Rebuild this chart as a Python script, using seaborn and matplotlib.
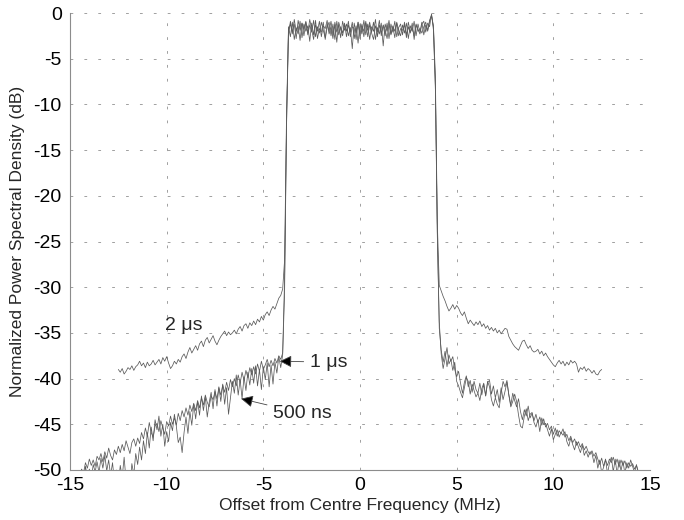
import numpy as np
import pandas as pd
import matplotlib
matplotlib.use("Agg")
import matplotlib.pyplot as plt
import seaborn as sns

# ---------------- data (0.1 MHz bins) ----------------
freq_wide = np.round(np.arange(-145, 146) / 10.0, 1)    # -14.5 .. 14.5 MHz
freq_2us = np.round(np.arange(-125, 126) / 10.0, 1)     # -12.5 .. 12.5 MHz

# 1 us pulse
psd_1us_left = [-50.6, -49.9, -50.3, -49.2, -49.8, -48.8, -49.5, -48.9, -49.6, -48.5,
                -48.9, -48.2, -49.1, -48.0, -48.7, -47.6, -48.4, -48.9, -47.8, -48.3,
                -47.4, -48.1, -47.2, -47.9, -46.8, -47.5, -48.2, -47.0, -46.6, -47.4,
                -46.5, -47.1, -45.9, -46.6, -45.4, -46.3, -44.8, -45.9, -46.4, -45.2,
                -44.9, -45.8, -44.6, -45.4, -46.1, -44.7, -45.2, -44.1, -45.0, -44.3,
                -45.1, -43.8, -44.6, -43.5, -44.2, -43.2, -44.0, -42.9, -43.6, -42.7,
                -43.5, -42.4, -43.2, -42.1, -42.9, -41.8, -42.6, -43.1, -41.9, -42.3,
                -41.4, -42.2, -41.0, -41.8, -40.7, -41.5, -40.4, -41.3, -40.1, -40.9,
                -40.0, -40.8, -39.6, -40.5, -39.3, -40.2, -39.1, -39.9, -38.8, -39.6,
                -38.7, -39.5, -38.4, -39.2, -38.1, -39.0, -38.5, -37.9, -38.7, -38.0,
                -38.6, -37.8, -38.3, -37.5, -37.9, -37.2,
                -29.0, -12.0]
psd_1us_band = [-2.4, -0.9, -2.1, -1.2, -2.8, -0.8, -1.9, -1.1, -2.5, -1.0,
                -2.2, -0.7, -1.8, -2.9, -1.3, -2.0, -0.9, -2.6, -1.4, -1.7,
                -0.8, -2.3, -1.5, -2.8, -1.0, -2.1, -1.3, -2.7, -0.9, -1.9,
                -1.2, -2.5, -1.6, -3.9, -1.1, -2.2, -1.0, -2.8, -1.4, -2.0,
                -0.9, -2.6, -1.3, -2.1, -1.0, -2.9, -1.6, -2.3, -1.1, -3.6,
                -1.2, -2.0, -0.8, -2.4, -1.5, -2.7, -1.0, -1.9, -2.5, -1.3,
                -2.2, -1.1, -2.8, -1.4, -2.0, -0.9, -2.5, -1.2, -2.1, -1.0,
                -2.4, -1.3, -1.9, -0.8, -0.2, -1.6]
psd_1us_right = [-8.0, -24.0,
                 -34.5, -36.9, -38.2, -37.0, -38.7, -37.4, -38.1, -37.6, -39.0, -39.8,
                 -39.2, -40.5, -41.6, -40.4, -39.7, -40.9, -40.2, -41.5, -40.3, -41.2,
                 -41.6, -40.5, -41.8, -40.6, -41.9, -40.4, -40.2, -41.7, -40.8, -42.1,
                 -41.2, -42.6, -41.0, -42.3, -41.4, -40.4, -41.8, -42.9, -41.6, -42.4,
                 -43.1, -42.2, -43.6, -44.5, -43.4, -44.1, -43.0, -44.3, -43.8, -44.6,
                 -43.9, -44.8, -44.2, -45.1, -44.4, -45.3, -44.9, -45.6, -45.2, -46.1,
                 -45.4, -46.3, -45.7, -46.0, -45.5, -46.4, -46.1, -46.8, -46.3, -47.0,
                 -46.6, -47.3, -46.9, -47.5, -47.1, -47.8, -47.4, -48.0, -48.3, -47.9,
                 -48.5, -48.1, -48.8, -49.4, -48.7, -49.6, -48.9, -49.5, -48.8, -49.2,
                 -48.6, -49.4, -48.8, -49.7, -48.9, -49.5, -49.0, -49.8, -49.2, -49.6,
                 -49.3, -49.9, -49.5, -50.2, -50.6]

# 500 ns pulse
psd_500ns_left = [-51.5, -50.4, -51.2, -49.6, -50.8, -49.9, -51.0, -49.4, -50.2, -49.1,
                  -50.3, -48.7, -49.8, -48.4, -50.1, -48.9, -50.6, -49.2, -51.3, -50.0,
                  -51.6, -49.5, -50.8, -48.6, -51.2, -50.1, -51.8, -49.3, -50.5, -48.2,
                  -49.4, -47.5, -48.9, -46.8, -48.2, -45.9, -47.6, -45.3, -46.8, -44.5,
                  -45.6, -44.1, -46.3, -45.0, -47.4, -45.8, -46.9, -44.8, -45.7, -43.9,
                  -45.2, -47.0, -46.4, -48.1, -45.9, -44.2, -46.0, -43.6, -45.1, -42.8,
                  -44.4, -42.5, -44.0, -41.9, -43.5, -42.0, -44.2, -42.6, -41.5, -43.3,
                  -41.2, -43.0, -40.9, -42.5, -40.6, -42.8, -41.0, -43.9, -42.1, -40.3,
                  -41.6, -39.6, -41.8, -40.1, -42.2, -39.8, -41.3, -39.3, -40.7, -38.9,
                  -40.5, -38.6, -40.8, -39.0, -41.2, -38.7, -40.1, -38.3, -40.9, -38.5,
                  -40.6, -38.2, -39.4, -37.6, -38.8, -37.4,
                  -30.5, -12.5]
psd_500ns_band = [-1.5, -2.6, -1.0, -2.9, -1.6, -2.3, -0.9, -2.7, -1.2, -2.0,
                  -1.4, -3.1, -1.1, -2.4, -0.8, -2.8, -1.7, -2.1, -1.0, -2.9,
                  -1.6, -1.0, -2.5, -1.2, -2.9, -0.9, -2.4, -1.5, -2.2, -1.1,
                  -2.6, -1.3, -2.1, -1.0, -2.8, -1.4, -3.3, -1.2, -2.3, -0.8,
                  -2.4, -1.2, -2.9, -1.5, -2.0, -0.7, -2.6, -1.3, -2.2, -1.4,
                  -2.5, -1.1, -2.8, -1.2, -2.1, -0.9, -2.6, -1.6, -1.2, -2.4,
                  -1.0, -2.7, -1.5, -2.2, -1.1, -2.9, -1.3, -1.8, -2.3, -1.2,
                  -0.9, -2.1, -1.1, -1.5, -0.1, -1.9]
psd_500ns_right = [-8.5, -24.5,
                   -33.8, -37.3, -38.9, -37.8, -36.6, -38.4, -37.9, -39.1, -38.2, -40.3,
                   -40.8, -41.5, -42.1, -41.0, -39.9, -40.3, -41.7, -40.6, -41.3, -42.0,
                   -41.6, -42.4, -41.1, -40.5, -41.9, -40.3, -40.9, -42.3, -43.0, -42.1,
                   -42.8, -43.2, -41.6, -40.3, -40.9, -40.2, -41.8, -43.1, -42.5, -41.7,
                   -42.5, -44.0, -45.2, -45.4, -44.1, -43.3, -44.6, -43.9, -43.7, -44.8,
                   -45.3, -44.5, -45.8, -44.3, -45.0, -44.9, -45.6, -46.3, -45.5, -46.7,
                   -46.1, -45.6, -46.4, -45.9, -46.2, -45.8, -46.9, -47.4, -46.5, -47.2,
                   -47.8, -46.9, -47.5, -48.1, -47.3, -48.4, -47.9, -48.6, -48.0, -48.2,
                   -49.2, -48.4, -49.8, -48.9, -50.3, -49.7, -48.8, -50.4, -49.3, -48.6,
                   -50.2, -48.8, -50.5, -48.9, -50.1, -49.0, -50.4, -49.2, -49.8, -48.9,
                   -49.6, -50.3, -49.4, -50.5, -51.0]

# 2 us pulse
psd_2us_left = [-39.0, -39.3, -38.9, -39.5, -39.2, -38.8, -39.0, -38.6, -39.1, -38.7,
                -38.5, -38.1, -38.6, -38.3, -38.8, -38.2, -38.6, -38.4, -38.0, -38.5,
                -38.2, -37.9, -38.4, -37.7, -38.1, -37.6, -38.3, -38.9, -38.6, -38.1,
                -38.4, -37.9, -38.2, -37.6, -37.3, -37.8, -37.1, -36.6, -37.2, -36.8,
                -36.4, -36.9, -36.2, -35.9, -36.5, -35.8, -35.5, -36.1, -35.7, -35.3,
                -35.9, -36.3, -35.8, -35.4, -35.1, -34.8, -35.3, -34.9, -35.2, -35.0,
                -34.7, -35.1, -34.6, -34.3, -34.8, -34.2, -34.0, -34.5, -33.9, -34.2,
                -33.7, -34.1, -33.5, -33.8, -33.2, -33.6, -33.0, -32.7, -33.1, -32.5,
                -32.1, -32.4, -31.8, -31.2, -30.9, -30.2,
                -27.0, -11.0]
psd_2us_band = [-1.9, -1.2, -2.3, -0.7, -2.0, -1.4, -3.0, -1.1, -1.8, -0.9,
                -2.4, -1.3, -2.1, -0.8, -2.6, -1.5, -2.2, -1.0, -1.9, -2.7,
                -1.2, -2.0, -0.9, -2.4, -1.3, -3.2, -1.0, -1.8, -2.5, -1.3,
                -2.0, -0.9, -2.6, -1.5, -1.7, -2.9, -1.0, -2.3, -1.2, -2.6,
                -1.1, -1.9, -1.0, -2.2, -2.9, -1.4, -2.1, -0.8, -2.5, -1.3,
                -1.8, -2.8, -1.2, -2.3, -1.4, -2.0, -1.1, -2.5, -1.7, -1.9,
                -1.3, -2.4, -1.0, -2.1, -1.6, -2.5, -1.2, -2.0, -1.7, -2.2,
                -1.5, -1.0, -2.0, -0.9, -0.3, -1.4]
psd_2us_right = [-7.0, -23.0,
                 -29.8, -30.4, -31.0, -31.5, -32.1, -32.6, -32.3, -31.9, -32.4, -32.0,
                 -32.3, -32.8, -33.1, -32.7, -33.4, -34.0, -33.6, -33.9, -34.2, -33.8,
                 -34.1, -33.7, -34.3, -34.0, -34.5, -34.2, -34.7, -34.4, -34.8, -34.5,
                 -35.0, -34.7, -35.1, -34.8, -34.5, -34.6, -35.4, -35.8, -36.2, -36.5,
                 -36.7, -36.9, -36.4, -35.9, -35.8, -36.3, -36.7, -36.4, -36.9, -37.1,
                 -37.0, -36.8, -37.3, -37.0, -37.5, -37.2, -37.6, -37.9, -38.2, -38.5,
                 -38.7, -38.3, -38.0, -38.4, -38.1, -38.6, -38.2, -38.5, -38.0, -38.3,
                 -38.1, -38.4, -39.3, -38.8, -39.0, -38.7, -39.2, -38.9, -39.1, -39.4,
                 -39.1, -39.5, -39.6, -39.2, -39.0]

x_ticks = [-15, -10, -5, 0, 5, 10, 15]
y_ticks = [0, -5, -10, -15, -20, -25, -30, -35, -40, -45, -50]

labels = {"2us": "2 \u03bcs", "1us": "1 \u03bcs", "500ns": "500 ns"}

# ---------------- assemble ----------------
series = {
    "500ns": (freq_wide, psd_500ns_left + psd_500ns_band + psd_500ns_right),
    "1us": (freq_wide, psd_1us_left + psd_1us_band + psd_1us_right),
    "2us": (freq_2us, psd_2us_left + psd_2us_band + psd_2us_right),
}
frames = []
for name, (f, p) in series.items():
    assert len(f) == len(p), (name, len(f), len(p))
    frames.append(pd.DataFrame({"freq": f, "psd": p, "series": name}))
df = pd.concat(frames, ignore_index=True)

# ---------------- plot ----------------
sns.set_style("white")
plt.rcParams["font.family"] = ["Liberation Sans", "DejaVu Sans"]
plt.rcParams["lines.scale_dashes"] = False

fig = plt.figure(figsize=(6.84, 5.20), dpi=100)
ax = fig.add_axes([70 / 684, 1 - 470 / 520, 580 / 684, 457 / 520])

line_col = "#5a5a5a"
sns.lineplot(data=df, x="freq", y="psd", hue="series",
             palette={"500ns": line_col, "1us": line_col, "2us": line_col},
             estimator=None, sort=False, legend=False, linewidth=0.55, ax=ax)

ax.set_xlim(-15, 15)
ax.set_ylim(-50, 0)
ax.set_xticks(x_ticks)
ax.set_yticks(y_ticks)
ax.set_xticklabels([str(v) for v in x_ticks])
ax.set_yticklabels([str(v) for v in y_ticks])
ax.grid(True, color="#a0a0a0", linewidth=0.7, linestyle=(0, (2.0, 8.0)))
ax.set_axisbelow(True)

for s in ["top", "right"]:
    ax.spines[s].set_visible(False)
for s in ["left", "bottom"]:
    ax.spines[s].set_color("#8c8c8c")
    ax.spines[s].set_linewidth(0.8)

ax.tick_params(axis="both", which="both", length=0, labelsize=14, colors="black")
ax.tick_params(axis="y", pad=6)
ax.tick_params(axis="x", pad=5)

ax.set_xlabel("Offset from Centre Frequency (MHz)", fontsize=12.5, labelpad=3)
ax.set_ylabel("Normalized Power Spectral Density (dB)", fontsize=12.5, labelpad=6)

# annotations
ax.text(-10.1, -34.2, labels["2us"], fontsize=14, ha="left", va="center")
arrow = dict(arrowstyle="-|>", ec="#444444", fc="black", lw=0.6,
             mutation_scale=18, shrinkA=2, shrinkB=0)
ax.annotate(labels["1us"], xy=(-4.15, -38.1), xytext=(-2.6, -38.2),
            fontsize=14, ha="left", va="center", arrowprops=arrow)
ax.annotate(labels["500ns"], xy=(-6.15, -42.2), xytext=(-4.5, -43.8),
            fontsize=14, ha="left", va="center", arrowprops=arrow)

fig.savefig("out.png", dpi=100)
